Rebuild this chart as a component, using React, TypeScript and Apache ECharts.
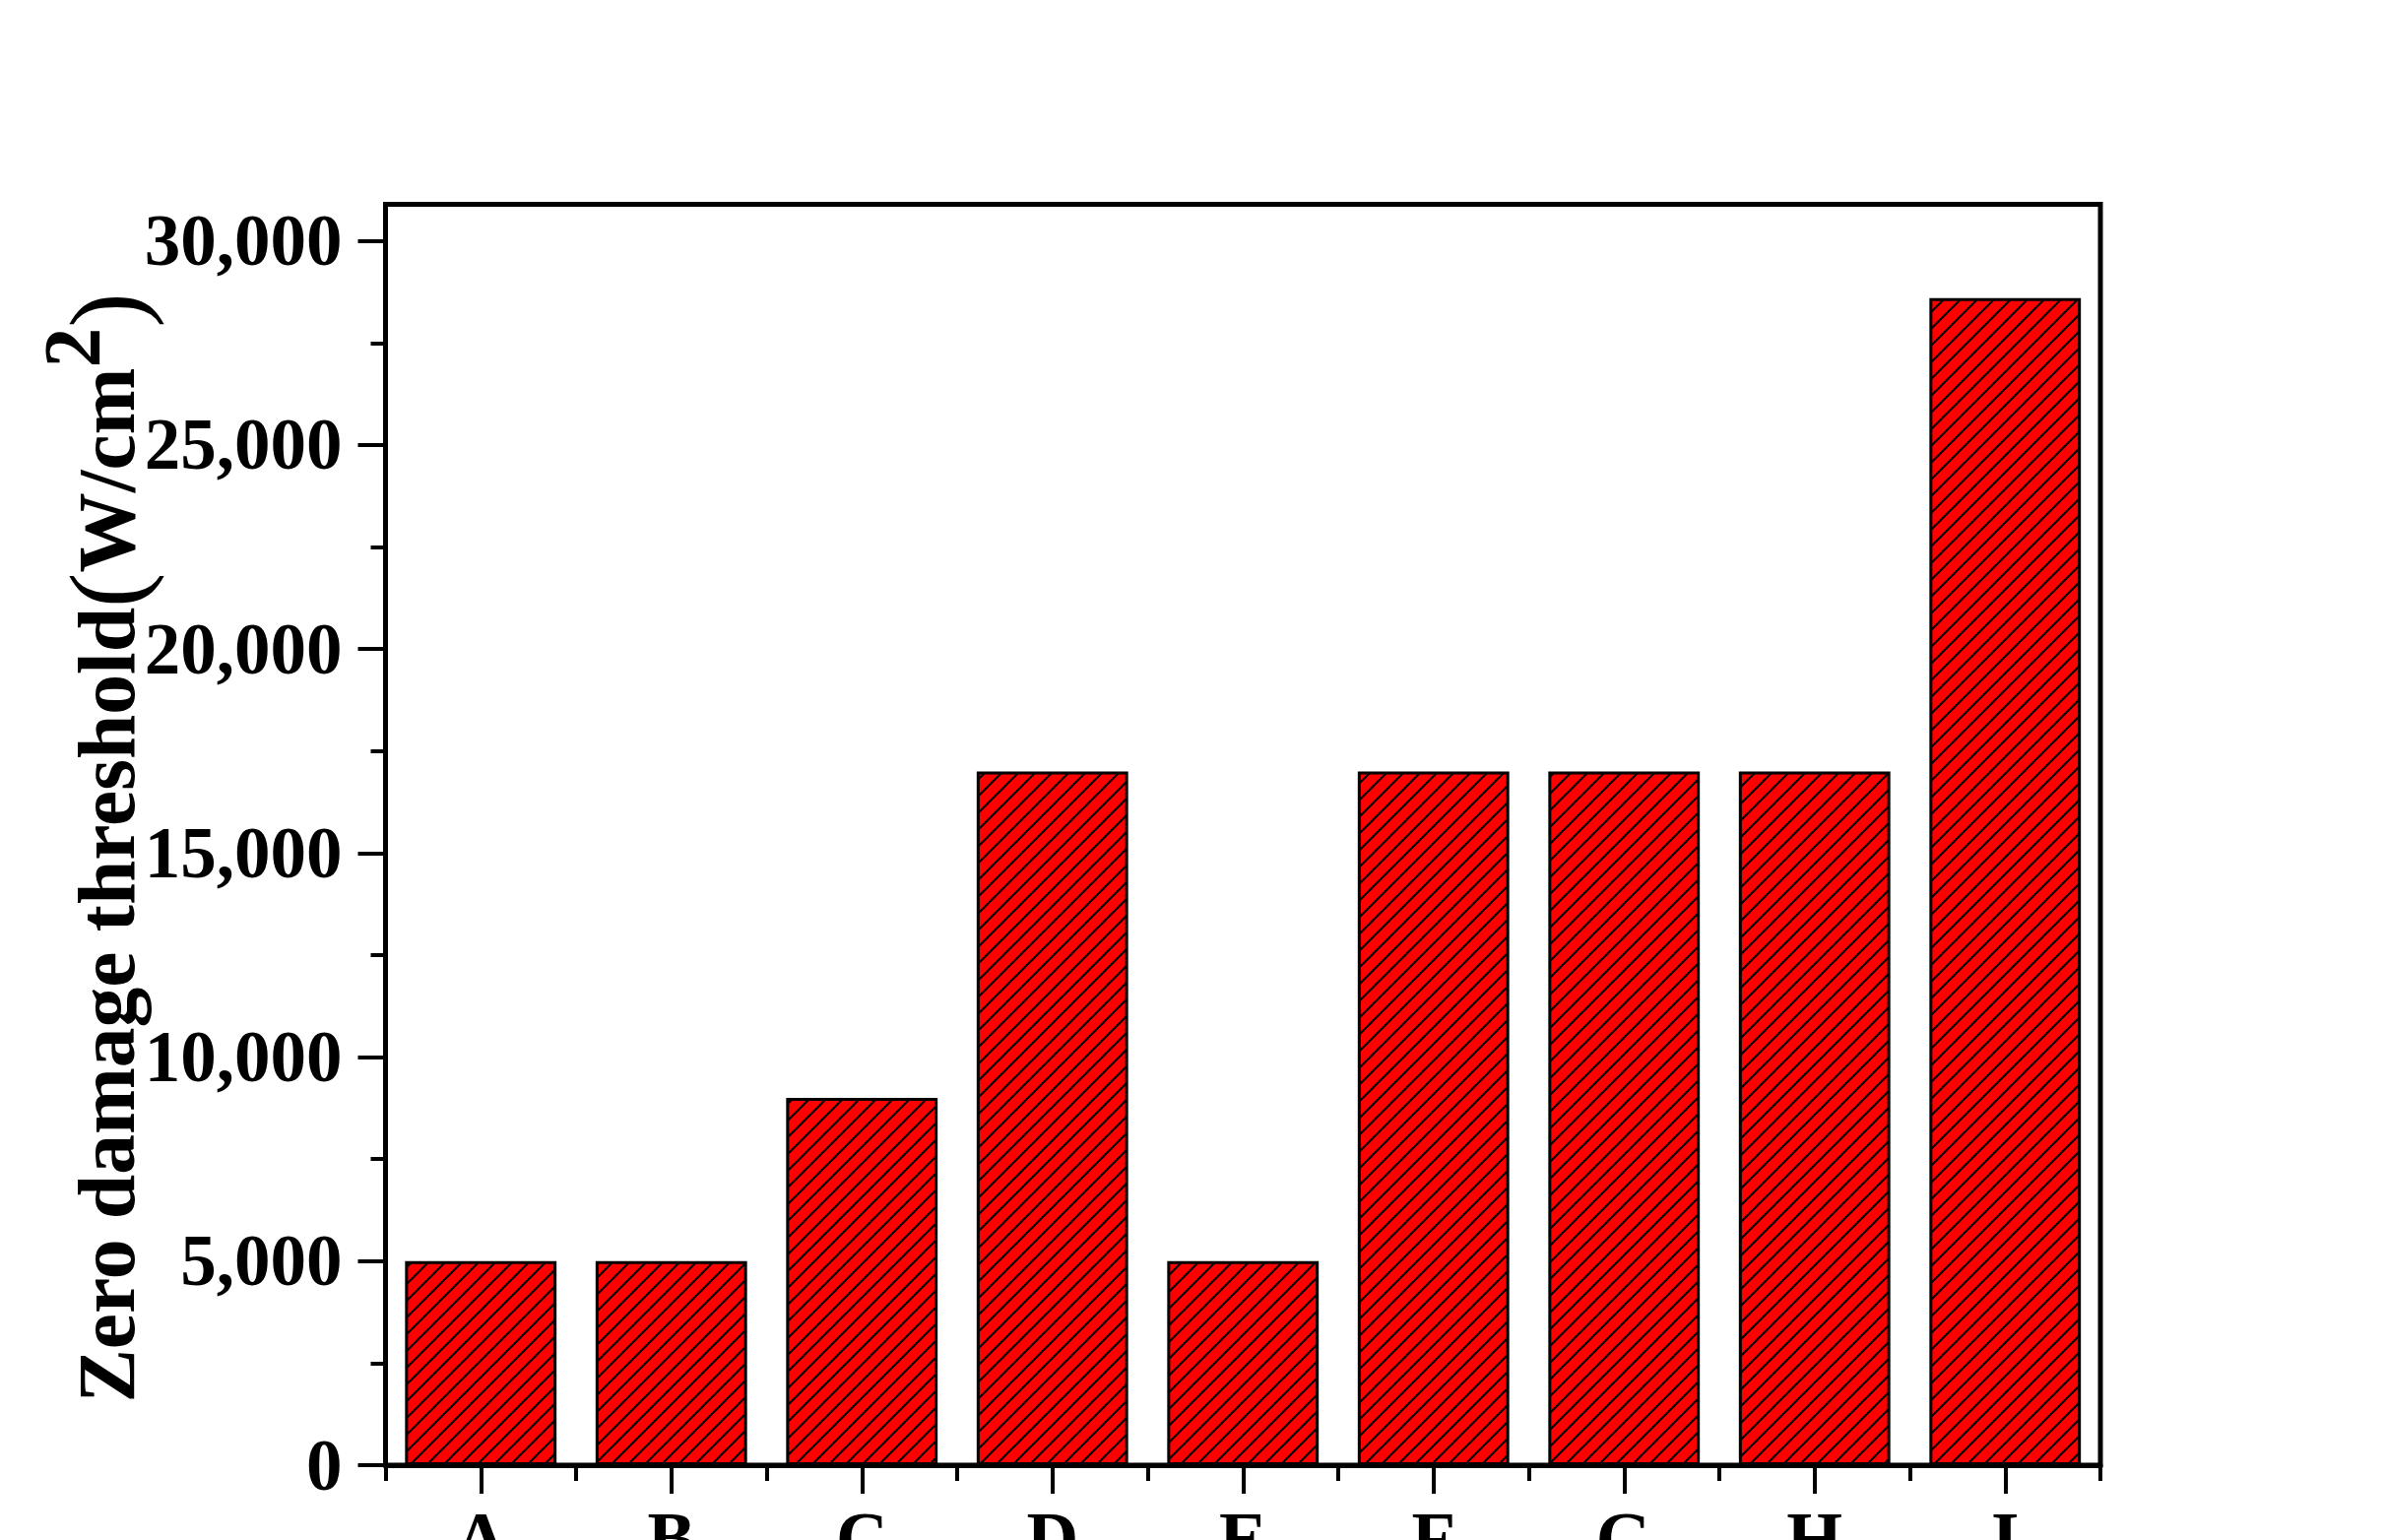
import React, { useEffect, useRef } from 'react';
import * as echarts from 'echarts';

const categories = ['A', 'B', 'C', 'D', 'E', 'F', 'G', 'H', 'I'];
const thresholds = [5000, 5000, 9000, 17000, 5000, 17000, 17000, 17000, 28600];
const yMajorTicks = [0, 5000, 10000, 15000, 20000, 25000, 30000];
const yMinorTicks = [2500, 7500, 12500, 17500, 22500, 27500];
const yMin = 0;
const yMax = 30900;

const FONT = '"Liberation Serif", "Times New Roman", serif';

function makeHatch(): HTMLCanvasElement {
  const s = 17;
  const c = document.createElement('canvas');
  c.width = s;
  c.height = s;
  const ctx = c.getContext('2d')!;
  ctx.fillStyle = '#ff0000';
  ctx.fillRect(0, 0, s, s);
  ctx.strokeStyle = '#000000';
  ctx.lineWidth = 2;
  for (const k of [-s, 0, s]) {
    ctx.beginPath();
    ctx.moveTo(k - 2, s + 2);
    ctx.lineTo(k + s + 2, -2);
    ctx.stroke();
  }
  return c;
}

export default function App() {
  const ref = useRef<HTMLDivElement>(null);

  useEffect(() => {
    if (!ref.current) return;
    const chart = echarts.init(ref.current, null, { renderer: 'svg' });
    const hatch = makeHatch();

    const option: any = {
      animation: false,
      backgroundColor: '#ffffff',
      grid: {
        left: 391.5,
        top: 207.5,
        right: 289,
        bottom: 76,
        containLabel: false,
        outerBoundsMode: 'none',
        show: true,
        borderColor: '#000',
        borderWidth: 5,
        backgroundColor: 'transparent',
      },
      xAxis: [
        {
          type: 'category',
          data: categories,
          position: 'bottom',
          boundaryGap: true,
          axisLine: { show: true, lineStyle: { color: '#000', width: 5 } },
          axisTick: { show: true, alignWithLabel: false, length: 16, lineStyle: { color: '#000', width: 4 } },
          axisLabel: {
            show: true,
            margin: 38,
            color: '#000',
            fontFamily: FONT,
            fontWeight: 'bold',
            fontSize: 73,
          },
          splitLine: { show: false },
        },
        {
          type: 'category',
          data: categories,
          position: 'bottom',
          boundaryGap: true,
          axisLine: { show: false },
          axisTick: { show: true, alignWithLabel: true, length: 29, lineStyle: { color: '#000', width: 4 } },
          axisLabel: { show: false },
          splitLine: { show: false },
        },
      ],
      yAxis: [
        {
          type: 'value',
          min: yMin,
          max: yMax,
          interval: 5000,
          position: 'left',
          axisLine: { show: true, lineStyle: { color: '#000', width: 5 } },
          axisTick: { show: true, length: 28, customValues: yMajorTicks, lineStyle: { color: '#000', width: 4 } },
          axisLabel: {
            show: true,
            margin: 44,
            customValues: yMajorTicks,
            color: '#000',
            fontFamily: FONT,
            fontWeight: 'bold',
            fontSize: 73,
            formatter: (v: number) => v.toLocaleString('en-US'),
          },
          splitLine: { show: false },
        },
        {
          type: 'value',
          min: yMin,
          max: yMax,
          interval: 2500,
          position: 'left',
          axisLine: { show: false },
          axisTick: { show: true, length: 15, customValues: yMinorTicks, lineStyle: { color: '#000', width: 4 } },
          axisLabel: { show: false },
          splitLine: { show: false },
        },
      ],
      series: [
        {
          type: 'bar',
          xAxisIndex: 0,
          yAxisIndex: 0,
          data: thresholds,
          barWidth: '79.5%',
          itemStyle: {
            color: { image: hatch, repeat: 'repeat' },
            borderColor: '#000',
            borderWidth: 3,
          },
        },
      ],
      graphic: [
        {
          type: 'text',
          x: 108,
          y: 861,
          rotation: Math.PI / 2,
          style: {
            text: '{a|Zero damage threshold}{p|(}{a|W/cm}{s|2}{p|)}',
            align: 'center',
            verticalAlign: 'middle',
            fill: '#000',
            rich: {
              a: { fontFamily: FONT, fontWeight: 'bold', fontSize: 81.5, fill: '#000' },
              p: { fontFamily: FONT, fontWeight: 'normal', fontSize: 106, fill: '#000' },
              s: { fontFamily: FONT, fontWeight: 'bold', fontSize: 81.5, fill: '#000', padding: [0, 0, 70, 0] },
            },
          },
        },
      ],
    };

    chart.setOption(option);
    return () => {
      chart.dispose();
    };
  }, []);

  return (
    <div
      ref={ref}
      style={{ position: 'fixed', left: 0, top: 0, width: 2422, height: 1564, background: '#fff' }}
    />
  );
}
